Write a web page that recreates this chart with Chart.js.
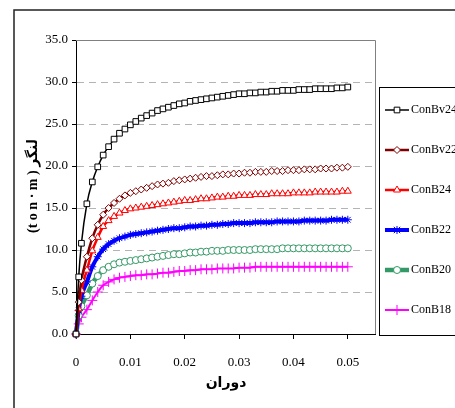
<!DOCTYPE html>
<html lang="fa">
<head>
<meta charset="UTF-8">
<title>Moment - rotation</title>
<script src="https://cdn.jsdelivr.net/npm/chart.js"></script>
<style>
  html, body { margin: 0; padding: 0; background: #fff; }
</style>
</head>
<body>
<canvas id="momentChart" width="455" height="408"></canvas>
<script>
// rotation (x axis)
const rotation = [0, 0.0005, 0.001, 0.002, 0.003, 0.004, 0.005, 0.006, 0.007, 0.008, 0.009, 0.010,
  0.011, 0.012, 0.013, 0.014, 0.015, 0.016, 0.017, 0.018, 0.019, 0.020,
  0.021, 0.022, 0.023, 0.024, 0.025, 0.026, 0.027, 0.028, 0.029, 0.030,
  0.031, 0.032, 0.033, 0.034, 0.035, 0.036, 0.037, 0.038, 0.039, 0.040,
  0.041, 0.042, 0.043, 0.044, 0.045, 0.046, 0.047, 0.048, 0.049, 0.050];

// moment (ton-m) for each specimen
const conBv24 = [0, 6.8, 10.8, 15.5, 18.1, 19.9, 21.3, 22.3, 23.2, 23.9, 24.4, 24.9,
  25.3, 25.7, 26.0, 26.3, 26.6, 26.8, 27.0, 27.2, 27.4, 27.5,
  27.7, 27.8, 27.9, 28.0, 28.1, 28.2, 28.3, 28.4, 28.5, 28.6,
  28.6, 28.7, 28.7, 28.8, 28.8, 28.9, 28.9, 29.0, 29.0, 29.0,
  29.1, 29.1, 29.1, 29.2, 29.2, 29.2, 29.2, 29.3, 29.3, 29.4];
const conBv22 = [0, 3.8, 6.4, 9.2, 11.4, 13.0, 14.2, 15.0, 15.6, 16.1, 16.5, 16.8,
  17.0, 17.2, 17.4, 17.6, 17.8, 17.9, 18.0, 18.2, 18.3, 18.4,
  18.5, 18.6, 18.7, 18.8, 18.8, 18.9, 19.0, 19.0, 19.1, 19.1,
  19.2, 19.2, 19.3, 19.3, 19.3, 19.4, 19.4, 19.4, 19.5, 19.5,
  19.5, 19.6, 19.6, 19.6, 19.7, 19.7, 19.7, 19.8, 19.8, 19.9];
const conB24 = [0, 3.0, 5.2, 7.6, 9.9, 11.5, 12.8, 13.5, 14.0, 14.4, 14.7, 14.9,
  15.0, 15.1, 15.2, 15.3, 15.4, 15.5, 15.6, 15.7, 15.8, 15.9,
  15.9, 16.0, 16.1, 16.1, 16.2, 16.3, 16.3, 16.4, 16.4, 16.5,
  16.5, 16.5, 16.6, 16.6, 16.6, 16.7, 16.7, 16.7, 16.7, 16.8,
  16.8, 16.8, 16.8, 16.9, 16.9, 16.9, 16.9, 16.9, 17.0, 17.0];
const conB22 = [0, 2.8, 4.5, 6.2, 8.0, 9.2, 10.1, 10.7, 11.1, 11.4, 11.6, 11.8,
  11.9, 12.0, 12.1, 12.2, 12.3, 12.4, 12.5, 12.6, 12.6, 12.7,
  12.8, 12.8, 12.9, 12.9, 13.0, 13.0, 13.1, 13.1, 13.2, 13.2,
  13.2, 13.2, 13.3, 13.3, 13.3, 13.3, 13.4, 13.4, 13.4, 13.4,
  13.4, 13.5, 13.5, 13.5, 13.5, 13.5, 13.6, 13.6, 13.6, 13.6];
const conB20 = [0, 2.2, 3.3, 4.6, 6.0, 6.9, 7.6, 8.0, 8.3, 8.5, 8.6, 8.7,
  8.8, 8.9, 9.0, 9.1, 9.2, 9.3, 9.4, 9.5, 9.5, 9.6,
  9.7, 9.7, 9.8, 9.8, 9.9, 9.9, 9.9, 10.0, 10.0, 10.0,
  10.0, 10.0, 10.1, 10.1, 10.1, 10.1, 10.1, 10.2, 10.2, 10.2,
  10.2, 10.2, 10.2, 10.2, 10.2, 10.2, 10.2, 10.2, 10.2, 10.2];
const conB18 = [0, 1.2, 2.0, 2.9, 4.0, 5.0, 5.8, 6.2, 6.5, 6.7, 6.8, 6.9,
  7.0, 7.0, 7.1, 7.1, 7.2, 7.3, 7.3, 7.4, 7.5, 7.5,
  7.6, 7.6, 7.7, 7.7, 7.7, 7.8, 7.8, 7.8, 7.8, 7.9,
  7.9, 7.9, 8.0, 8.0, 8.0, 8.0, 8.0, 8.0, 8.0, 8.0,
  8.0, 8.0, 8.0, 8.0, 8.0, 8.0, 8.0, 8.0, 8.0, 8.0];

const seriesNames = ['ConBv24', 'ConBv22', 'ConB24', 'ConB22', 'ConB20', 'ConB18'];
const xTicks = [0, 0.01, 0.02, 0.03, 0.04, 0.05];
const xTickLabels = ['0', '0.01', '0.02', '0.03', '0.04', '0.05'];
const yTicks = [0, 5, 10, 15, 20, 25, 30, 35];

const xTitle = 'دوران';
const yTitle = '(t o n · m ) لنگر';

// styles per series
const styles = [
  { color: '#000000', point: 'rect',    r: 4,   w: 1.5, fill: '#ffffff' },
  { color: '#800000', point: 'rectRot', r: 3.5, w: 2.5, fill: '#ffffff' },
  { color: '#ff0000', point: 'triangle',r: 4,   w: 2.5, fill: '#ffffff' },
  { color: '#0000ff', point: 'star',    r: 4,   w: 4,   fill: '#0000ff' },
  { color: '#339966', point: 'circle',  r: 3.5, w: 4.5, fill: '#ffffff' },
  { color: '#ff00ff', point: 'cross',   r: 5,   w: 2,   fill: '#ff00ff' }
];
const seriesValues = [conBv24, conBv22, conB24, conB22, conB20, conB18];

const datasets = seriesValues.map((vals, i) => ({
  label: seriesNames[i],
  data: vals.map((v, k) => ({ x: rotation[k], y: v })),
  borderColor: styles[i].color,
  borderWidth: styles[i].w,
  pointStyle: styles[i].point,
  pointRadius: styles[i].r,
  pointBorderWidth: 1,
  pointBorderColor: styles[i].color,
  pointBackgroundColor: styles[i].fill,
  cubicInterpolationMode: 'monotone',
  clip: false
}));

const SERIF = '"Liberation Serif", "Times New Roman", serif';

function legendMarker(ctx, s, x, y) {
  ctx.save();
  ctx.strokeStyle = s.color;
  ctx.fillStyle = s.fill;
  ctx.lineWidth = 1;
  const r = s.r;
  ctx.beginPath();
  if (s.point === 'rect') {
    const a = r * Math.SQRT1_2;
    ctx.rect(x - a, y - a, 2 * a, 2 * a);
    ctx.fill(); ctx.stroke();
  } else if (s.point === 'rectRot') {
    ctx.moveTo(x, y - r); ctx.lineTo(x + r, y); ctx.lineTo(x, y + r); ctx.lineTo(x - r, y); ctx.closePath();
    ctx.fill(); ctx.stroke();
  } else if (s.point === 'triangle') {
    ctx.moveTo(x, y - r); ctx.lineTo(x + r * 0.87, y + r * 0.5); ctx.lineTo(x - r * 0.87, y + r * 0.5); ctx.closePath();
    ctx.fill(); ctx.stroke();
  } else if (s.point === 'circle') {
    ctx.arc(x, y, r, 0, Math.PI * 2);
    ctx.fill(); ctx.stroke();
  } else if (s.point === 'star') {
    ctx.moveTo(x, y - r); ctx.lineTo(x, y + r);
    ctx.moveTo(x - r * 0.8, y - r * 0.8); ctx.lineTo(x + r * 0.8, y + r * 0.8);
    ctx.moveTo(x + r * 0.8, y - r * 0.8); ctx.lineTo(x - r * 0.8, y + r * 0.8);
    ctx.stroke();
  } else {
    ctx.moveTo(x, y - r); ctx.lineTo(x, y + r);
    ctx.moveTo(x - r, y); ctx.lineTo(x + r, y);
    ctx.stroke();
  }
  ctx.restore();
}

const decor = {
  id: 'decor',
  beforeDraw(chart) {
    const ctx = chart.ctx;
    ctx.save();
    ctx.fillStyle = '#fff';
    ctx.fillRect(0, 0, chart.width, chart.height);
    // outer frame
    ctx.strokeStyle = '#222';
    ctx.lineWidth = 1.5;
    ctx.beginPath();
    ctx.moveTo(14, chart.height);
    ctx.lineTo(14, 10);
    ctx.lineTo(chart.width, 10);
    ctx.stroke();
    ctx.restore();
  },
  beforeDatasetsDraw(chart) {
    const { ctx, chartArea: a } = chart;
    ctx.save();
    ctx.strokeStyle = '#808080';
    ctx.lineWidth = 1;
    ctx.beginPath();
    ctx.moveTo(a.left, a.top + 0.5);
    ctx.lineTo(a.right + 0.5, a.top + 0.5);
    ctx.lineTo(a.right + 0.5, a.bottom);
    ctx.stroke();
    ctx.restore();
  },
  afterDraw(chart) {
    const ctx = chart.ctx;
    ctx.save();
    // legend box
    ctx.strokeStyle = '#000';
    ctx.lineWidth = 1;
    ctx.strokeRect(379.5, 87.5, 100, 248);
    ctx.font = '12px ' + SERIF;
    ctx.textBaseline = 'middle';
    ctx.textAlign = 'left';
    styles.forEach((s, i) => {
      const y = 110 + i * 40;
      ctx.strokeStyle = s.color;
      ctx.lineWidth = s.w;
      ctx.beginPath();
      ctx.moveTo(385, y);
      ctx.lineTo(409, y);
      ctx.stroke();
      legendMarker(ctx, s, 397, y);
      ctx.fillStyle = '#000';
      ctx.fillText(seriesNames[i], 411, y);
    });
    // axis titles
    ctx.fillStyle = '#000';
    ctx.textAlign = 'center';
    ctx.font = 'bold 14px "DejaVu Sans", sans-serif';
    ctx.fillText(xTitle, 226, 383);
    ctx.translate(33, 186);
    ctx.rotate(-Math.PI / 2);
    ctx.font = 'bold 14px ' + SERIF + ', "DejaVu Sans"';
    ctx.fillText(yTitle, 0, 0);
    ctx.restore();
  }
};

new Chart(document.getElementById('momentChart'), {
  type: 'line',
  data: { datasets },
  options: {
    responsive: false,
    animation: false,
    layout: { padding: { top: 40, right: 80, bottom: 0, left: 0 } },
    plugins: { legend: { display: false }, tooltip: { enabled: false } },
    scales: {
      x: {
        type: 'linear',
        min: 0,
        max: 0.055,
        afterBuildTicks: s => { s.ticks = xTicks.map(v => ({ value: v })); },
        afterFit: s => { s.height = 74; },
        ticks: {
          autoSkip: false,
          maxRotation: 0,
          padding: 16,
          color: '#000',
          font: { family: SERIF, size: 13 },
          callback: (v, i) => xTickLabels[i]
        },
        grid: { drawOnChartArea: false, tickLength: 5, tickColor: '#000' },
        border: { color: '#000', width: 1 }
      },
      y: {
        min: 0,
        max: 35,
        afterBuildTicks: s => { s.ticks = yTicks.map(v => ({ value: v })); },
        afterFit: s => { s.width = 76; },
        ticks: {
          padding: 4,
          color: '#000',
          font: { family: SERIF, size: 13 },
          callback: v => Number(v).toFixed(1)
        },
        grid: {
          color: c => (c.tick && c.tick.value > 0 && c.tick.value < 35) ? '#b4b4b4' : 'rgba(0,0,0,0)',
          tickColor: '#000',
          tickLength: 4
        },
        border: { color: '#000', width: 1, dash: [7, 5] }
      }
    }
  },
  plugins: [decor]
});
</script>
</body>
</html>
